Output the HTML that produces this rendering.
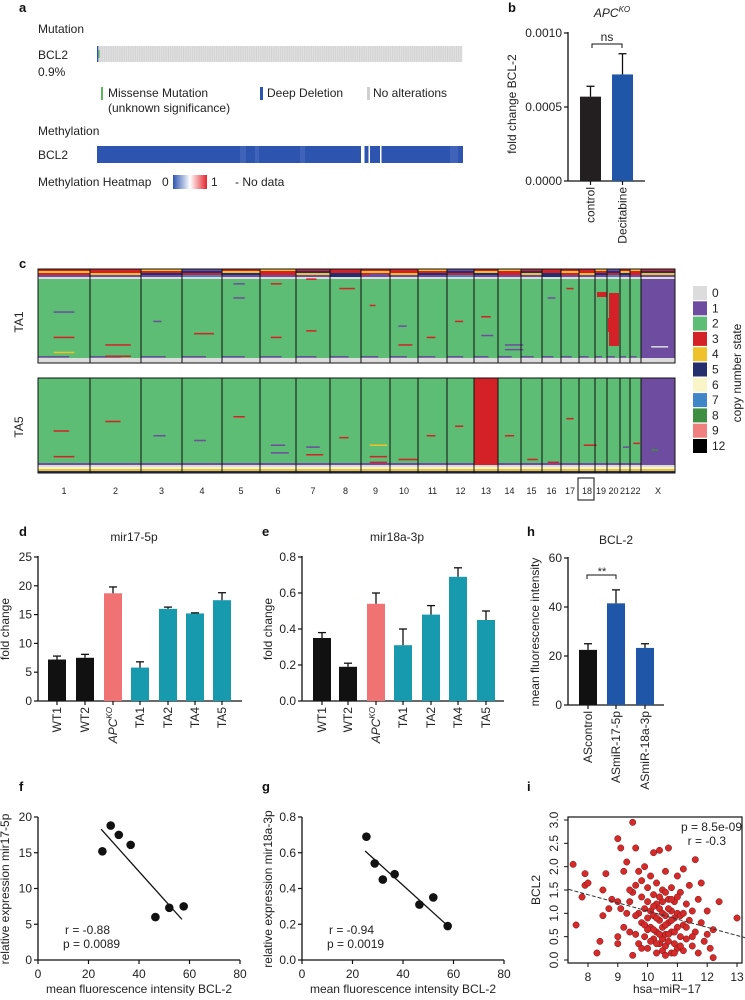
<!DOCTYPE html>
<html><head><meta charset="utf-8"><style>
html,body{margin:0;padding:0;background:#fff;}
svg{display:block;font-family:"Liberation Sans",Arial,sans-serif;}
</style></head><body>
<svg id="fig" width="745" height="1000" viewBox="0 0 745 1000" xmlns="http://www.w3.org/2000/svg"></svg>
<script>
// ---------- DATA ----------
// panel b
const bCats=["control","Decitabine"];
const bVals=[0.00057,0.00072];
const bErrs=[0.00064,0.00086];
const bTicks=[0,0.0005,0.0010];
const bTickLabels=["0.0000","0.0005","0.0010"];
// panel d
const dCats=["WT1","WT2","APC","TA1","TA2","TA4","TA5"];
const dVals=[7.2,7.5,18.7,5.8,16.0,15.2,17.5];
const dErrs=[7.8,8.1,19.8,6.8,16.3,15.3,18.8];
const dTicks=[0,5,10,15,20,25];
// panel e
const eVals=[0.35,0.19,0.54,0.31,0.48,0.69,0.45];
const eErrs=[0.38,0.21,0.60,0.40,0.53,0.74,0.50];
const eTicks=[0,0.2,0.4,0.6,0.8];
const eTickLabels=["0.0","0.2","0.4","0.6","0.8"];
// panel h
const hCats=["AScontrol","ASmiR-17-5p","ASmiR-18a-3p"];
const hVals=[22.5,41.5,23.3];
const hErrs=[25,47,25];
const hTicks=[0,20,40,60];
// panel f
const fX=[25.5,28.8,32,36.7,46.5,52,57.7];
const fY=[15.2,18.8,17.5,16.1,6.0,7.3,7.5];
const fFit=[28.14,-0.394];
const fXTicks=[0,20,40,60,80];
const fYTicks=[0,5,10,15,20];
// panel g
const gX=[25.5,28.8,32,36.7,46.5,52,57.7];
const gY=[0.69,0.54,0.45,0.48,0.31,0.35,0.19];
const gFit=[0.93,-0.0128];
const gYTicks=[0,0.2,0.4,0.6,0.8];
const gYTickLabels=["0.0","0.2","0.4","0.6","0.8"];
// panel i
const iX=[7.5,7.6,7.9,7.9,8.0,7.8,8.3,8.4,8.5,8.5,8.6,8.7,8.8,9.0,9.0,9.0,9.1,9.1,9.2,9.2,9.3,9.3,9.4,9.4,9.5,9.5,9.5,9.6,9.6,9.6,9.7,9.7,9.7,9.8,9.8,9.8,9.9,9.9,9.9,10.0,10.0,10.0,10.0,10.1,10.1,10.1,10.2,10.2,10.2,10.2,10.3,10.3,10.3,10.3,10.4,10.4,10.4,10.4,10.5,10.5,10.5,10.5,10.5,10.6,10.6,10.6,10.6,10.7,10.7,10.7,10.7,10.8,10.8,10.8,10.8,10.9,10.9,10.9,11.0,11.0,11.0,11.0,11.1,11.1,11.1,11.2,11.2,11.2,11.3,11.3,11.4,11.4,11.5,11.5,11.6,11.6,11.7,11.7,11.8,11.8,11.9,12.0,12.0,12.1,12.2,12.2,12.4,13.0,9.0,9.4,10.2,10.4,10.6,10.8,10.3,10.5,10.7,10.9,10.1,10.3,10.6,10.9,11.1,11.3,10.0,10.4,10.8,11.0,9.8,9.6,11.5,11.2,10.2,10.6,9.9,10.7];
const iY=[2.05,0.75,1.85,1.6,1.65,1.35,0.15,0.4,1.5,0.95,1.85,1.1,1.3,2.6,0.5,0.35,1.1,2.4,1.9,0.7,2.1,1.0,1.25,0.6,2.95,1.45,0.1,2.4,1.6,0.55,1.9,1.0,0.35,1.35,0.8,1.7,2.0,1.1,0.5,1.55,0.9,0.25,1.25,1.8,0.7,1.05,2.3,1.4,0.45,0.95,1.2,0.6,0.15,1.65,2.35,0.85,0.35,1.1,1.5,0.7,0.45,1.0,0.2,1.9,0.95,0.55,0.3,1.3,0.8,0.4,2.4,1.05,0.6,0.15,1.55,0.9,0.35,1.25,1.8,0.7,0.25,1.0,1.45,0.5,0.95,1.95,0.75,0.2,1.2,0.45,1.6,0.85,0.3,1.05,2.15,0.6,1.3,0.15,1.65,0.8,0.4,1.05,0.55,0.25,0.05,0.65,1.25,0.9,1.25,1.5,0.65,0.55,0.75,0.85,0.9,1.25,1.1,0.6,0.4,0.35,0.1,0.15,0.3,0.7,0.65,1.35,1.3,1.35,0.25,0.95,0.5,1.0,1.15,1.45,0.75,0.55];
const iFit=[2.8,-0.175];
const iXTicks=[8,9,10,11,12,13];
const iYTicks=[0,0.5,1,1.5,2,2.5,3];
const iYTickLabels=["0.0","0.5","1.0","1.5","2.0","2.5","3.0"];
// panel c
const chromNames=["1","2","3","4","5","6","7","8","9","10","11","12","13","14","15","16","17","18","19","20","21","22","X"];
const chromEdges=[38,90,141,182,222,260,296,330,361,390,418,447,474,498,521,542,561,579,595,607,620,630,641,675];
const cnStates=["0","1","2","3","4","5","6","7","8","9","12"];
const cnColors=["#dcdcdc","#6e4c9f","#5dbd74","#d42127","#efc22a","#262f6e","#faf5c9","#3f85c8","#3e8f42","#f08080","#000000"];
// dashes: [chromIdx, yFrac, widthFrac, stateIdx]
const ta1Dashes=[[0,0.45,0.4,1],[0,0.72,0.4,3],[0,0.88,0.4,4],[1,0.8,0.5,3],[1,0.92,0.5,3],[2,0.55,0.2,1],[3,0.68,0.5,3],[4,0.15,0.3,1],[4,0.3,0.3,1],[5,0.15,0.3,3],[5,0.72,0.3,3],[6,0.1,0.3,3],[6,0.65,0.3,3],[7,0.2,0.5,3],[8,0.05,0.6,1],[8,0.38,0.2,3],[9,0.8,0.5,3],[9,0.6,0.3,1],[10,0.72,0.3,3],[11,0.55,0.3,3],[12,0.5,0.4,3],[12,0.7,0.5,1],[13,0.8,0.8,1],[13,0.85,0.8,1],[15,0.3,0.4,1],[16,0.2,0.4,3],[22,0.82,0.5,0]];
const ta5Dashes=[[0,0.55,0.3,3],[0,0.82,0.4,3],[1,0.45,0.3,3],[2,0.6,0.3,1],[3,0.65,0.3,1],[4,0.4,0.3,3],[5,0.7,0.4,1],[5,0.78,0.5,1],[6,0.72,0.4,1],[6,0.8,0.5,3],[7,0.62,0.3,3],[8,0.7,0.6,4],[8,0.82,0.6,3],[8,0.88,0.6,3],[9,0.85,0.7,3],[9,0.9,0.7,1],[10,0.6,0.3,3],[11,0.5,0.3,3],[13,0.6,0.4,3],[14,0.85,0.5,3],[15,0.88,0.6,3],[16,0.42,0.4,3],[17,0.7,0.8,3],[20,0.72,0.6,1],[21,0.68,0.6,3],[22,0.75,0.2,8]];

// ---------- helpers ----------
const NS="http://www.w3.org/2000/svg";
const svg=document.getElementById('fig');
function mk(tag,attrs,parent){const e=document.createElementNS(NS,tag);for(const k in attrs)e.setAttribute(k,attrs[k]);(parent||svg).appendChild(e);return e;}
function txt(x,y,s,size,anchor,parent,extra){const t=mk('text',Object.assign({x:x,y:y,'font-size':size||12,'text-anchor':anchor||'start',fill:'#222'},extra||{}),parent);t.textContent=s;return t;}
function lin(x1,y1,x2,y2,w,parent,col){return mk('line',{x1:x1,y1:y1,x2:x2,y2:y2,stroke:col||'#111','stroke-width':w||1.2},parent);}
function scale(d0,d1,r0,r1){return v=>r0+(v-d0)*(r1-r0)/(d1-d0);}
function grp(name){const g=mk('g',{});return g;}

// panel letters
[["a",19,12],["b",508,12],["c",19,268],["d",19,536],["e",262,536],["h",527,536],["f",19,791],["g",262,791],["i",527,791]].forEach(l=>{
  const t=txt(l[1],l[2],l[0],13,'start',svg,{'font-weight':'bold',fill:'#111'});
  
  
});

// ---------- panel a ----------
(function(){
  const g=grp('panel-a-oncoprint');
  txt(38,33,"Mutation",12,'start',g);
  txt(38,59,"BCL2",12,'start',g);
  txt(38,76,"0.9%",12,'start',g);
  const gb=mk('rect',{x:97,y:46,width:365,height:16,fill:'#d4d4d4'},g);
  
  
  for(let x=99;x<462;x+=2.2) mk('line',{x1:x,y1:46,x2:x,y2:62,stroke:'#e6e6e6','stroke-width':0.7},g);
  mk('rect',{x:97,y:46,width:1.3,height:16,fill:'#2b56b0'},g);
  mk('rect',{x:98.5,y:50,width:1,height:8,fill:'#4caf50'},g);
  mk('rect',{x:101,y:87,width:2,height:13,fill:'#5cb85c'},g);
  txt(108,97,"Missense Mutation",12,'start',g);
  txt(108,112,"(unknown significance)",12,'start',g);
  mk('rect',{x:260,y:87,width:3,height:13,fill:'#2b56b0'},g);
  txt(267,97,"Deep Deletion",12,'start',g);
  mk('rect',{x:367,y:87,width:3,height:13,fill:'#cfcfcf'},g);
  txt(373,97,"No alterations",12,'start',g);
  txt(38,135,"Methylation",12,'start',g);
  txt(38,159,"BCL2",12,'start',g);
  const mb=mk('rect',{x:97,y:146,width:366,height:17,fill:'#2d55b0'},g);
  
  
  [[240,6],[255,4],[300,5],[450,8]].forEach(s=>mk('rect',{x:s[0],y:146,width:s[1],height:17,fill:'#3f63b8'},g));
  mk('rect',{x:361,y:146,width:3.5,height:17,fill:'#fff'},g);
  mk('rect',{x:368.5,y:146,width:1.5,height:17,fill:'#fff'},g);
  mk('rect',{x:380,y:146,width:1.5,height:17,fill:'#fff'},g);
  txt(38,186,"Methylation Heatmap",12,'start',g);
  txt(162,186,"0",12,'start',g);
  const defs=mk('defs',{},g);
  const lg=mk('linearGradient',{id:'mg',x1:0,x2:1,y1:0,y2:0},defs);
  mk('stop',{offset:'0',  'stop-color':'#2d55b0'},lg);
  mk('stop',{offset:'0.5','stop-color':'#ffffff'},lg);
  mk('stop',{offset:'1',  'stop-color':'#e4262e'},lg);
  mk('rect',{x:173,y:175,width:34,height:14,fill:'url(#mg)'},g);
  txt(211,186,"1",12,'start',g);
  txt(235,186,"- No data",12,'start',g);
})();

// ---------- bar chart helper ----------
function barChart(o){
  const g=grp(o.name);
  const ys=scale(o.ymin,o.ymax,o.y0,o.y1);
  lin(o.ax,o.y1-1,o.ax,o.y0,1.3,g);
  lin(o.ax,o.y0,o.axEnd,o.y0,1.3,g);
  o.ticks.forEach((t,i)=>{const y=ys(t);lin(o.ax-4,y,o.ax,y,1.2,g);txt(o.ax-6,y+4,o.tickLabels?o.tickLabels[i]:String(t),12,'end',g);});
  o.vals.forEach((v,i)=>{
    const x0=o.bx[i][0],x1=o.bx[i][1],cx=(x0+x1)/2;
    const r=mk('rect',{x:x0,y:ys(v),width:x1-x0,height:o.y0-ys(v),fill:o.colors[i]},g);
    
    
    lin(cx,ys(v),cx,ys(o.errs[i]),1.3,g);
    lin(cx-4,ys(o.errs[i]),cx+4,ys(o.errs[i]),1.3,g);
    lin(cx,o.y0,cx,o.y0+4,1.2,g);
    const lx=cx+4,ly=o.y0+6;
    const t=mk('text',{x:lx,y:ly,'font-size':12,'text-anchor':'end',fill:'#222',transform:`rotate(-90 ${lx} ${ly})`},g);
    if(o.cats[i]==="APC"){t.setAttribute('font-style','italic');t.textContent="APC";const s=mk('tspan',{'font-size':8,dy:-5},t);s.textContent="KO";}
    else t.textContent=o.cats[i];
  });
  const yt=mk('text',{x:o.ytx,y:o.yty,'font-size':12,'text-anchor':'middle',fill:'#222',transform:`rotate(-90 ${o.ytx} ${o.yty})`},g);
  yt.textContent=o.ytitle;
  
  
  if(o.title) txt(o.title[0],o.title[1],o.title[2],12,'middle',g);
  return {g:g,ys:ys};
}

// panel b
(function(){
  const r=barChart({name:'panel-b-chart',ymin:0,ymax:0.001,y0:181,y1:33,ax:568,axEnd:645,ticks:bTicks,tickLabels:bTickLabels,
    vals:bVals,errs:bErrs,cats:bCats,bx:[[580,601],[612,633]],colors:['#231f20','#1f56a8'],ytitle:'fold change BCL-2',ytx:516,yty:104});
  const t=txt(612,17,"APC",12,'middle',r.g,{'font-style':'italic'});const s=mk('tspan',{'font-size':8,dy:-5},t);s.textContent="KO";
  mk('path',{d:'M592 48 V44 H622 V48',fill:'none',stroke:'#111','stroke-width':1},r.g);
  txt(607,41,"ns",12,'middle',r.g);
})();
// panel d
barChart({name:'panel-d-mir17-chart',ymin:0,ymax:25,y0:701,y1:557,ax:38,axEnd:242,ticks:dTicks,
  vals:dVals,errs:dErrs,cats:dCats,bx:[[48,66],[76,94],[104,122],[131,149],[159,177],[186,204],[213,231]],
  colors:['#111','#111','#f07272','#1799ae','#1799ae','#1799ae','#1799ae'],ytitle:'fold change',ytx:9,yty:629,title:[134,541,'mir17-5p']});
// panel e
barChart({name:'panel-e-mir18a-chart',ymin:0,ymax:0.8,y0:701,y1:557,ax:302,axEnd:504,ticks:eTicks,tickLabels:eTickLabels,
  vals:eVals,errs:eErrs,cats:dCats,bx:[[313,331],[339,357],[367,385],[394,412],[422,440],[449,467],[477,495]],
  colors:['#111','#111','#f07272','#1799ae','#1799ae','#1799ae','#1799ae'],ytitle:'fold change',ytx:272,yty:629,title:[397,541,'mir18a-3p']});
// panel h
(function(){
  const r=barChart({name:'panel-h-bcl2-chart',ymin:0,ymax:60,y0:705,y1:558,ax:568,axEnd:664,ticks:hTicks,
    vals:hVals,errs:hErrs,cats:hCats,bx:[[579,597],[607,625],[636,654]],colors:['#111','#1f56a8','#1f56a8'],
    ytitle:'mean fluorescence intensity',ytx:539,yty:632,title:[616,544,'BCL-2']});
  mk('path',{d:'M587 579 V575 H616 V579',fill:'none',stroke:'#111','stroke-width':1},r.g);
  txt(602,575,"**",11,'middle',r.g);
})();

// ---------- scatter helper ----------
function scatter(o){
  const g=grp(o.name);
  const xs=scale(o.xmin,o.xmax,o.x0,o.x1), ys=scale(o.ymin,o.ymax,o.y0,o.y1);
  lin(o.x0,o.y1,o.x0,o.y0,1.3,g); lin(o.x0,o.y0,o.x1,o.y0,1.3,g);
  o.yTicks.forEach((t,i)=>{const y=ys(t);lin(o.x0-4,y,o.x0,y,1.2,g);txt(o.x0-6,y+4,o.yLabels?o.yLabels[i]:String(t),12,'end',g);});
  o.xTicks.forEach(t=>{const x=xs(t);lin(x,o.y0,x,o.y0+4,1.2,g);txt(x,o.y0+18,String(t),12,'middle',g);});
  const xa=o.fit? [o.fitX[0],o.fitX[1]]:null;
  lin(xs(xa[0]),ys(o.fit[0]+o.fit[1]*xa[0]),xs(xa[1]),ys(o.fit[0]+o.fit[1]*xa[1]),1.3,g);
  o.xv.forEach((v,i)=>{const c=mk('circle',{cx:xs(v),cy:ys(o.yv[i]),r:4.3,fill:'#111'},g);
    
    });
  txt((o.x0+o.x1)/2,993,"mean fluorescence intensity BCL-2",12,'middle',g);
  const yt=mk('text',{x:o.ytx,y:889,'font-size':12,'text-anchor':'middle',fill:'#222',transform:`rotate(-90 ${o.ytx} 889)`},g);
  yt.textContent=o.ytitle;
  
  
  txt(o.tx,934,o.rtxt,12,'start',g); txt(o.tx-2,948,o.ptxt,12,'start',g);
}
scatter({name:'panel-f-scatter',xmin:0,xmax:80,x0:38,x1:240,ymin:0,ymax:20,y0:960,y1:817,xTicks:fXTicks,yTicks:fYTicks,
  xv:fX,yv:fY,fit:fFit,fitX:[25,57],ytitle:'relative expression mir17-5p',ytx:9,tx:65,rtxt:'r = -0.88',ptxt:'p = 0.0089'});
scatter({name:'panel-g-scatter',xmin:0,xmax:80,x0:302,x1:504,ymin:0,ymax:0.8,y0:960,y1:817,xTicks:fXTicks,yTicks:gYTicks,yLabels:gYTickLabels,
  xv:gX,yv:gY,fit:gFit,fitX:[25,57],ytitle:'relative expression mir18a-3p',ytx:272,tx:329,rtxt:'r = -0.94',ptxt:'p = 0.0019'});

// ---------- panel i ----------
(function(){
  const g=grp('panel-i-scatter');
  const xs=scale(8,13,588,737), ys=scale(0,3,960,820);
  mk('rect',{x:568,y:817,width:174,height:146,fill:'none',stroke:'#111','stroke-width':1.2},g);
  iXTicks.forEach(t=>{const x=xs(t);lin(x,963,x,967,1,g);txt(x,981,String(t),12,'middle',g);});
  iYTicks.forEach((t,i)=>{const y=ys(t);lin(564,y,568,y,1,g);const tx=mk('text',{x:558,y:y,'font-size':12,'text-anchor':'middle',fill:'#222',transform:`rotate(-90 558 ${y})`},g);tx.textContent=iYTickLabels[i];});
  iX.forEach((v,i)=>{const c=mk('circle',{cx:xs(v),cy:ys(iY[i]),r:3.2,fill:'#d42a2a',stroke:'#7a1515','stroke-width':0.5},g);
    
    });
  const x0=7.35,x1=13.3;
  mk('line',{x1:xs(x0),y1:ys(iFit[0]+iFit[1]*x0),x2:xs(x1),y2:ys(iFit[0]+iFit[1]*x1),stroke:'#333','stroke-width':1,'stroke-dasharray':'4 2'},g);
  txt(742,831,"p = 8.5e-09",12,'end',g); txt(726,845,"r = -0.3",12,'end',g);
  txt(667,993,"hsa\u2212miR\u221217",12,'middle',g);
  const yt=mk('text',{x:540,y:890,'font-size':12,'text-anchor':'middle',fill:'#222',transform:'rotate(-90 540 890)'},g);
  yt.textContent="BCL2";
})();

// ---------- panel c heatmap ----------
(function(){
  const g=grp('panel-c-copy-number');
  const C=cnColors;
  function block(top,bot,dashes,isTA1){
    for(let i=0;i<23;i++){
      const x0=chromEdges[i],x1=chromEdges[i+1],w=x1-x0;
      const base=(i===22)?C[1]:C[2];
      const r=mk('rect',{x:x0,y:top,width:w,height:bot-top,fill:base},g);
      
      
      if(isTA1){
        const seq=[[3,4,3,1,0],[3,3,4,1,0],[4,3,5,1,0],[1,5,3,7,0],[3,4,5,1,0],[4,3,3,1,0],[3,5,4,1,0],[3,3,5,5,0]][i%8];
        seq.forEach((s,k)=>mk('rect',{x:x0,y:top+k*2,width:w,height:2,fill:C[s]},g));
        mk('rect',{x:x0,y:bot-5,width:w,height:5,fill:C[0]},g);
        mk('rect',{x:x0,y:bot-7,width:w*0.6,height:1.5,fill:C[1]},g);
      } else {
        const seq=[1,0,6,4,5];
        seq.forEach((s,k)=>mk('rect',{x:x0,y:bot-10+k*2,width:w,height:2,fill:C[s]},g));
      }
    }
    dashes.forEach(d=>{const x0=chromEdges[d[0]],w=chromEdges[d[0]+1]-x0;
      mk('rect',{x:x0+w*0.3,y:top+(bot-top)*d[1],width:w*d[2],height:1.5,fill:C[d[3]]},g);});
  }
  block(269,363,ta1Dashes,true);
  block(378,473,ta5Dashes,false);
  // TA1 chromosome 20 gain, 19 partial
  mk('rect',{x:609,y:293,width:10,height:53,fill:C[3]},g);
  mk('rect',{x:597,y:292,width:10,height:5,fill:C[3]},g);
  mk('rect',{x:608,y:318,width:3,height:14,fill:C[3]},g);
  // TA5 chromosome 13 gain
  mk('rect',{x:474,y:378,width:24,height:87,fill:C[3]},g);
  // outlines
  [[269,363],[378,473]].forEach(b=>{for(let i=0;i<23;i++){mk('rect',{x:chromEdges[i],y:b[0],width:chromEdges[i+1]-chromEdges[i],height:b[1]-b[0],fill:'none',stroke:'#111','stroke-width':1},g);}});
  for(let i=0;i<23;i++){txt((chromEdges[i]+chromEdges[i+1])/2,494,chromNames[i],9,'middle',g);}
  mk('rect',{x:578,y:478,width:16,height:22,fill:'none',stroke:'#333','stroke-width':1.2},g);
  [["TA1",322],["TA5",427]].forEach(l=>{const t=mk('text',{x:23,y:l[1],'font-size':12,'text-anchor':'middle',fill:'#222',transform:`rotate(-90 23 ${l[1]})`},g);t.textContent=l[0];});
  const lgd=grp('copy-number-legend');
  cnStates.forEach((s,i)=>{const y=286+i*15.3;
    const r=mk('rect',{x:693,y:y,width:14,height:14,fill:C[i]},lgd);
    
    
    txt(712,y+11,s,12,'start',lgd);});
  const t=mk('text',{x:741,y:373,'font-size':12,'text-anchor':'middle',fill:'#222',transform:'rotate(-90 741 373)'},lgd);
  t.textContent="copy number state";
})();
</script>
</body></html>
